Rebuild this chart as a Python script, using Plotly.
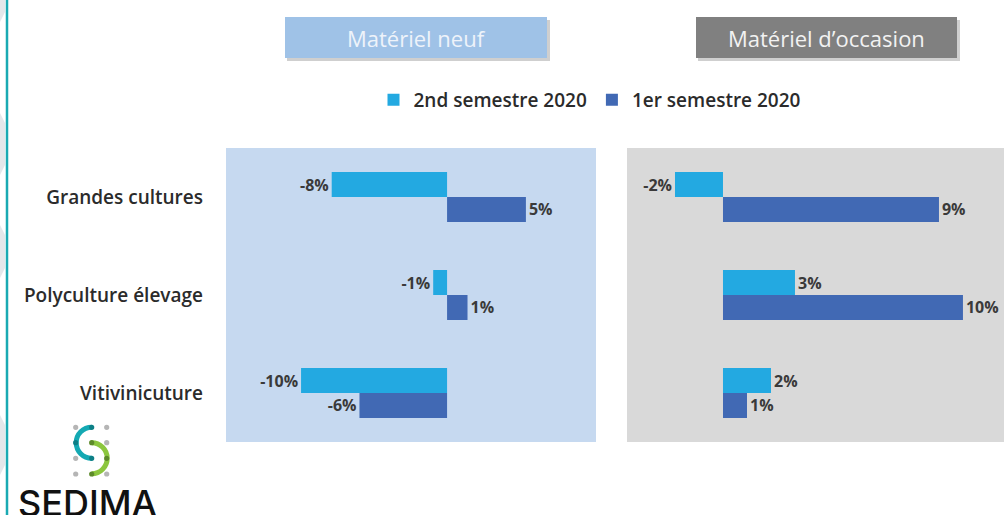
import plotly.graph_objects as go

W, H = 1004, 515

categories = ["Grandes cultures", "Polyculture élevage", "Vitivinicuture"]
series_names = ["2nd semestre 2020", "1er semestre 2020"]
neuf_s2 = [-7.9, -0.95, -10.0]
neuf_s1 = [5.4, 1.4, -6.0]
occ_s2 = [-2.0, 3.0, 2.0]
occ_s1 = [9.0, 10.0, 1.0]
panel_titles = ["Matériel neuf", "Matériel d\u2019occasion"]

C_LIGHT = "#23a9e1"
C_DARK = "#4169b4"
FONT = "Open Sans"
TXT = "#2b2b2b"


def px(x):
    return x / W


def py(y):
    return 1 - y / H


fig = go.Figure()

label_font = dict(family=FONT, size=16, color="#3a3a3a", weight="bold")

for xs, axx, axy, show in [(neuf_s2, "x", "y", True), (occ_s2, "x2", "y2", False)]:
    fig.add_trace(go.Bar(
        y=categories, x=xs, orientation="h", name=series_names[0],
        marker=dict(color=C_LIGHT, line=dict(width=0)),
        texttemplate="%{x:.0f}%", textposition="outside", cliponaxis=False,
        constraintext="none", textfont=label_font,
        xaxis=axx, yaxis=axy, showlegend=show, legendgroup="s2",
    ))
for xs, axx, axy, show in [(neuf_s1, "x", "y", True), (occ_s1, "x2", "y2", False)]:
    fig.add_trace(go.Bar(
        y=categories, x=xs, orientation="h", name=series_names[1],
        marker=dict(color=C_DARK, line=dict(width=0)),
        texttemplate="%{x:.0f}%", textposition="outside", cliponaxis=False,
        constraintext="none", textfont=label_font,
        xaxis=axx, yaxis=axy, showlegend=show, legendgroup="s1",
    ))

ydom = [py(442), py(148)]
shapes = []
annotations = []

# panel backgrounds
shapes.append(dict(type="rect", xref="x domain", yref="y domain", x0=0, x1=1, y0=0, y1=1,
                   fillcolor="#c6d9f0", line=dict(width=0), layer="below"))
shapes.append(dict(type="rect", xref="x2 domain", yref="y2 domain", x0=0, x1=1, y0=0, y1=1,
                   fillcolor="#d9d9d9", line=dict(width=0), layer="below"))

# title boxes
for (x0, x1), fill, tcol, title in [((285, 547), "#9fc2e7", "#eef3fa", panel_titles[0]),
                                    ((696, 957), "#808080", "#f2f2f2", panel_titles[1])]:
    shapes.append(dict(type="rect", xref="paper", yref="paper", x0=px(x0 + 2), x1=px(x1 + 3),
                       y0=py(61), y1=py(20), fillcolor="#cfcfcf", line=dict(width=0), layer="below"))
    shapes.append(dict(type="rect", xref="paper", yref="paper", x0=px(x0), x1=px(x1),
                       y0=py(58), y1=py(17), fillcolor=fill, line=dict(width=0), layer="below"))
    annotations.append(dict(xref="paper", yref="paper", x=px((x0 + x1) / 2), y=py(38),
                            xanchor="center", yanchor="middle", showarrow=False, text=title,
                            font=dict(family=FONT, size=22, color=tcol)))

# left edge decoration
shapes.append(dict(type="line", xref="paper", yref="paper", x0=px(7), x1=px(7), y0=0, y1=1,
                   line=dict(color="#1aaab3", width=2.5)))
for y0, y1 in [(-20, 22), (113, 175), (225, 278), (415, 475)]:
    path = "M {} {} L {} {} L {} {} L {} {} Z".format(
        px(0), py(y0), px(5), py(y0 + 10), px(5), py(y1 - 10), px(0), py(y1))
    shapes.append(dict(type="path", xref="paper", yref="paper", path=path,
                       fillcolor="#e4e7ea", line=dict(width=0), layer="below"))

# logo
gx = [75.7, 91.7, 106.7]
gy = [427.3, 442.7, 458.3, 474.0]
r = 15.5
k = 0.5523 * r


def arc_path(cx, cy, side):
    s = -1 if side == "left" else 1
    pts = [(cx, cy - r), (cx + s * k, cy - r), (cx + s * r, cy - k), (cx + s * r, cy),
           (cx + s * r, cy + k), (cx + s * k, cy + r), (cx, cy + r)]
    p = "M {} {}".format(px(pts[0][0]), py(pts[0][1]))
    p += " C {} {} {} {} {} {}".format(px(pts[1][0]), py(pts[1][1]), px(pts[2][0]), py(pts[2][1]),
                                       px(pts[3][0]), py(pts[3][1]))
    p += " C {} {} {} {} {} {}".format(px(pts[4][0]), py(pts[4][1]), px(pts[5][0]), py(pts[5][1]),
                                       px(pts[6][0]), py(pts[6][1]))
    return p


shapes.append(dict(type="path", xref="paper", yref="paper", path=arc_path(gx[1], gy[1], "left"),
                   line=dict(color="#14a9b3", width=5)))
shapes.append(dict(type="path", xref="paper", yref="paper", path=arc_path(gx[1], gy[2], "right"),
                   line=dict(color="#8cc63e", width=5)))
dots = [(0, 0, "#b5b5b5"), (2, 0, "#b5b5b5"), (2, 1, "#b5b5b5"), (0, 2, "#b5b5b5"),
        (0, 3, "#b5b5b5"), (2, 3, "#b5b5b5"),
        (1, 0, "#0d7f86"), (0, 1, "#0d7f86"), (1, 2, "#0d7f86"),
        (1, 1, "#5d8a2a"), (2, 2, "#5d8a2a"), (1, 3, "#5d8a2a")]
dr = 2.6
for i, j, c in dots:
    shapes.append(dict(type="circle", xref="paper", yref="paper",
                       x0=px(gx[i] - dr), x1=px(gx[i] + dr), y0=py(gy[j] + dr), y1=py(gy[j] - dr),
                       fillcolor=c, line=dict(width=0)))
annotations.append(dict(xref="paper", yref="paper", x=px(16), y=py(479), xanchor="left", yanchor="top",
                        showarrow=False, text="SEDIMA",
                        font=dict(family="Inter", size=36, color="#111111", weight=500)))

fig.update_layout(
    width=W, height=H,
    margin=dict(l=0, r=0, t=0, b=0),
    paper_bgcolor="white", plot_bgcolor="rgba(0,0,0,0)",
    barmode="group", bargap=0.49, bargroupgap=0,
    showlegend=True,
    legend=dict(orientation="h", x=px(590), y=py(100), xanchor="center", yanchor="middle",
                font=dict(family=FONT, size=19, color=TXT, weight=600), bgcolor="rgba(0,0,0,0)",
                itemwidth=30, traceorder="normal"),
    xaxis=dict(domain=[px(226), px(596)], range=[-15.14, 10.2], showgrid=False, zeroline=False,
               showticklabels=False, fixedrange=True),
    yaxis=dict(domain=ydom, type="category", range=[2.5, -0.5], showgrid=False, zeroline=False,
               tickfont=dict(family=FONT, size=19, color=TXT, weight=600), ticklabelstandoff=22),
    xaxis2=dict(domain=[px(627), 1.0], range=[-4.0, 11.71], showgrid=False, zeroline=False,
                showticklabels=False, anchor="y2"),
    yaxis2=dict(domain=ydom, type="category", range=[2.5, -0.5], showgrid=False, zeroline=False,
                showticklabels=False, anchor="x2", matches="y"),
    shapes=shapes, annotations=annotations,
)

fig.write_html("out.html")
